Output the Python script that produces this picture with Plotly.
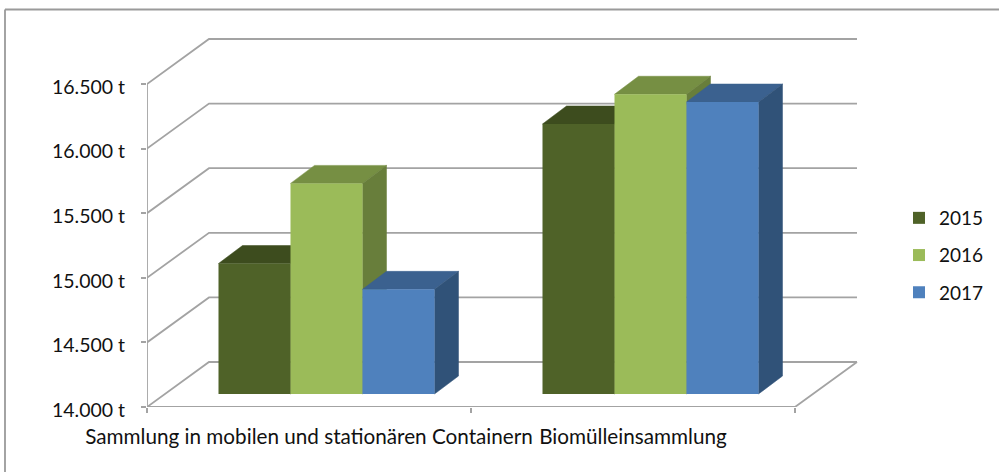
import plotly.graph_objects as go

categories = ["Sammlung in mobilen und stationären Containern", "Biomülleinsammlung"]
years = ["2015", "2016", "2017"]
values_2015 = [15010, 16090]
values_2016 = [15630, 16320]
values_2017 = [14810, 16260]
tick_values = [14000, 14500, 15000, 15500, 16000, 16500]
tick_labels = ["14.000 t", "14.500 t", "15.000 t", "15.500 t", "16.000 t", "16.500 t"]

front = ["#4F6228", "#9BBB59", "#4F81BD"]
top = ["#3D4C1E", "#768F43", "#3B618F"]
side = ["#364319", "#687E3B", "#305278"]
grid = "#A3A3A3"

# plot-area geometry (px)
L, R, T, B = 147, 860, 38, 407
PX_X = 324.0          # px per category
PX_Y = 64.6 / 500.0   # px per tonne
xr = [0, (R - L) / PX_X]
yr = [14000, 14000 + (B - T) / PX_Y]

# oblique-projection offsets, in data units
wall_dx, wall_dy = 62 / PX_X, 45 / PX_Y
bar_dx, bar_dy = 24 / PX_X, 18 / PX_Y
floor_lift = 13 / PX_Y
floor_shift = 17.5 / PX_X
bar_w = 1 / 4.5

fig = go.Figure()

# walls and floor
gx, gy = [], []
for v in tick_values:
    gx += [0, wall_dx, 2 + wall_dx, None]
    gy += [v, v + wall_dy, v + wall_dy, None]
gx += [0, 0, None, 0, 2, 2 + wall_dx]
gy += [tick_values[0], tick_values[-1], None, tick_values[0], tick_values[0], tick_values[0] + wall_dy]
fig.add_trace(go.Scatter(x=gx, y=gy, mode="lines", line=dict(color=grid, width=1.8),
                         showlegend=False, hoverinfo="skip", zorder=0))

series = [values_2015, values_2016, values_2017]
for i, (year, vals) in enumerate(zip(years, series)):
    z = 2 * i + 1
    off = -1.5 * bar_w + i * bar_w + floor_shift
    for cat, v in enumerate(vals):
        x0 = cat + 0.5 + off
        x1 = x0 + bar_w
        base = tick_values[0] + floor_lift
        ytop = v + floor_lift
        fig.add_trace(go.Scatter(
            x=[x0, x1, x1 + bar_dx, x0 + bar_dx, x0],
            y=[ytop, ytop, ytop + bar_dy, ytop + bar_dy, ytop],
            mode="lines", fill="toself", fillcolor=top[i], line=dict(color=top[i], width=0.5),
            showlegend=False, hoverinfo="skip", zorder=z))
        fig.add_trace(go.Scatter(
            x=[x1, x1 + bar_dx, x1 + bar_dx, x1, x1],
            y=[ytop, ytop + bar_dy, base + bar_dy, base, ytop],
            mode="lines", fill="toself", fillcolor=side[i], line=dict(color=side[i], width=0.5),
            showlegend=False, hoverinfo="skip", zorder=z))
    fig.add_trace(go.Bar(
        x=[0.5, 1.5], y=[v - tick_values[0] for v in vals],
        base=tick_values[0] + floor_lift, width=bar_w, offset=off,
        name=year, legendgroup=year, marker=dict(color=front[i], line=dict(width=0)),
        zorder=z + 1))

font = "Lato"
fig.update_layout(
    width=999, height=472, autosize=False,
    margin=dict(l=L, r=999 - R, t=T, b=472 - B),
    paper_bgcolor="white", plot_bgcolor="white",
    barmode="overlay",
    font=dict(family=font, size=19.5, color="#111111"),
    legend=dict(x=899 / 999, xref="container", xanchor="left", y=1 - 199 / 472, yref="container", yanchor="top",
                traceorder="grouped", tracegroupgap=9.5, itemwidth=30,
                bgcolor="rgba(0,0,0,0)", font=dict(family=font, size=19)),
    xaxis=dict(range=xr, tickmode="array", tickvals=[0.5, 1.5], ticktext=categories,
               ticks="outside", ticklen=11, tickcolor="rgba(0,0,0,0)", tickangle=0,
               showgrid=False, zeroline=False, showline=False, fixedrange=True,
               tickfont=dict(family=font, size=20.7),
               minor=dict(tickmode="array", tickvals=[0, 1, 2], ticks="outside", ticklen=5,
                          tickcolor=grid, tickwidth=1.8, showgrid=False)),
    yaxis=dict(range=yr, tickmode="array", tickvals=tick_values, ticktext=tick_labels,
               ticks="outside", ticklen=5, tickcolor=grid, tickwidth=1.8, ticklabelstandoff=12,
               ticklabelshift=3,
               showgrid=False, zeroline=False, showline=False, fixedrange=True,
               tickfont=dict(family=font, size=19.5)),
    shapes=[dict(type="line", xref="paper", yref="paper", layer="below",
                 x0=(5 - L) / (R - L), x1=(999 - L) / (R - L),
                 y0=(B - 9.5) / (B - T), y1=(B - 9.5) / (B - T),
                 line=dict(color="#9A9A9A", width=1.8)),
            dict(type="line", xref="paper", yref="paper", layer="below",
                 x0=(5 - L) / (R - L), x1=(5 - L) / (R - L),
                 y0=(B - 9.5) / (B - T), y1=(B - 472) / (B - T),
                 line=dict(color="#9A9A9A", width=1.8))],
)
fig.write_html("out.html", config={"displayModeBar": False},
               post_script="document.body.style.margin='0';document.body.style.overflow='hidden';")
